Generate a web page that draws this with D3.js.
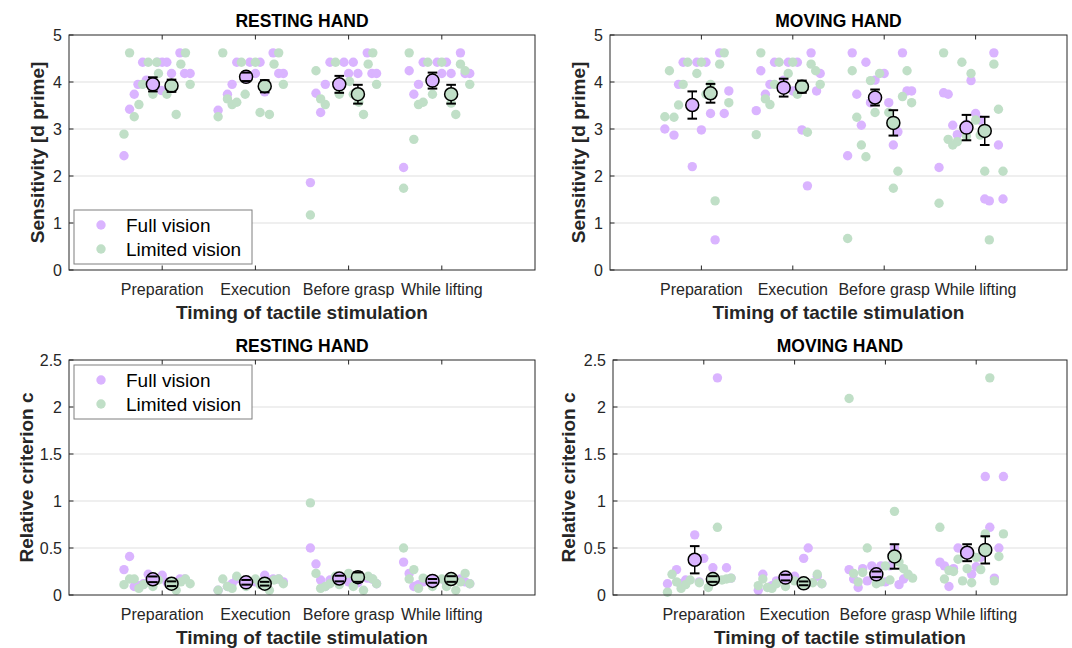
<!DOCTYPE html>
<html>
<head>
  <script src="https://cdn.jsdelivr.net/npm/d3@7"></script>
  <style>
    body { margin: 0; background: #fff; }
    text { font-family: "Liberation Sans", Arial, sans-serif; }
  </style>
</head>
<body>
  <script>

  var width = 1072
  var height = 648

  var categories = ["Preparation", "Execution", "Before grasp", "While lifting"];
  var groups = ["Full vision", "Limited vision"];

  // individual points: [jitter offset from category, value]
  var restDprimeFull = [
    [[-0.41,2.43],[-0.35,3.42],[-0.30,3.74],[-0.26,3.95],[-0.21,4.42],[-0.17,4.04],[-0.05,4.42],[-0.01,3.82],[0.0,4.42],[0.05,4.42],[0.10,4.18],[0.19,4.62],[0.24,4.18],[0.30,4.18]],
    [[-0.40,3.40],[-0.30,3.74],[-0.25,3.95],[-0.20,4.42],[-0.06,4.42],[0.0,4.18],[0.05,4.42],[0.10,3.79],[0.19,4.62],[0.25,4.18],[0.30,4.18]],
    [[-0.41,1.86],[-0.35,3.76],[-0.30,3.35],[-0.25,3.95],[-0.20,4.42],[-0.05,4.42],[0,4.18],[0.05,4.42],[0.10,4.18],[0.20,4.62],[0.25,4.18],[0.30,4.18]],
    [[-0.41,2.18],[-0.35,4.24],[-0.30,3.74],[-0.25,3.95],[-0.20,4.42],[-0.05,4.42],[0,4.18],[0.05,4.42],[0.10,4.18],[0.20,4.62],[0.25,4.18],[0.30,4.18]]
  ];
  var restDprimeLimited = [
    [[-0.41,2.89],[-0.35,4.62],[-0.30,3.26],[-0.25,3.52],[-0.21,3.95],[-0.15,4.42],[-0.10,3.74],[-0.06,4.42],[-0.04,4.18],[0.05,3.74],[0.15,3.31],[0.20,4.38],[0.25,4.62],[0.30,3.95]],
    [[-0.40,3.26],[-0.35,4.62],[-0.30,3.64],[-0.25,3.52],[-0.20,3.57],[-0.15,4.42],[-0.11,3.74],[0,4.42],[0.05,3.35],[0.15,3.31],[0.20,4.38],[0.25,4.62],[0.30,3.95]],
    [[-0.41,1.17],[-0.35,4.24],[-0.30,3.64],[-0.25,3.52],[-0.14,4.42],[-0.10,3.74],[0.01,4.01],[0.05,3.74],[0.11,3.57],[0.16,3.31],[0.21,4.38],[0.26,4.62],[0.30,3.95]],
    [[-0.41,1.74],[-0.35,4.62],[-0.30,2.78],[-0.25,3.52],[-0.20,3.57],[-0.15,4.42],[-0.10,3.74],[0,4.42],[0.10,3.55],[0.15,3.31],[0.20,4.38],[0.25,4.24],[0.30,3.95]]
  ];
  var restDprimeMeanFull = [3.95, 4.11, 3.95, 4.03];
  var restDprimeErrFull = [0.15, 0.09, 0.18, 0.17];
  var restDprimeMeanLimited = [3.92, 3.91, 3.74, 3.74];
  var restDprimeErrLimited = [0.13, 0.13, 0.20, 0.20];

  var moveDprimeFull = [
    [[-0.40,3.0],[-0.30,2.87],[-0.25,3.95],[-0.20,4.42],[-0.10,2.20],[-0.05,4.42],[0,2.98],[0.05,4.42],[0.10,3.33],[0.15,0.64],[0.20,4.62],[0.25,3.33],[0.30,3.81]],
    [[-0.40,3.39],[-0.35,4.24],[-0.30,3.74],[-0.25,3.95],[-0.20,4.42],[-0.10,4.04],[-0.05,4.42],[0,3.81],[0.05,4.42],[0.10,2.98],[0.16,1.79],[0.20,4.62],[0.26,3.81],[0.30,4.18]],
    [[-0.40,2.43],[-0.35,4.62],[-0.30,3.74],[-0.25,3.08],[-0.20,4.42],[-0.15,3.56],[-0.10,4.04],[0,4.18],[0.05,3.56],[0.10,2.66],[0.15,2.94],[0.20,4.62],[0.25,3.81],[0.30,3.81]],
    [[-0.40,2.18],[-0.35,3.77],[-0.30,3.74],[-0.25,3.08],[-0.20,2.88],[-0.10,3.10],[-0.05,4.03],[0,3.33],[0.05,3.19],[0.10,1.51],[0.15,1.47],[0.20,4.62],[0.25,2.66],[0.30,1.51]]
  ];
  var moveDprimeLimited = [
    [[-0.40,3.26],[-0.35,4.24],[-0.30,3.25],[-0.25,3.51],[-0.20,3.95],[-0.15,4.42],[-0.05,4.18],[0,4.42],[0.05,3.74],[0.10,3.95],[0.15,1.47],[0.20,4.38],[0.25,4.62],[0.30,3.56]],
    [[-0.40,2.88],[-0.35,4.62],[-0.30,3.64],[-0.25,3.52],[-0.20,3.95],[-0.15,4.42],[-0.05,4.18],[0,4.42],[0.05,3.74],[0.16,2.93],[0.20,4.38],[0.25,4.24],[0.30,3.95]],
    [[-0.40,0.67],[-0.35,4.24],[-0.30,3.25],[-0.25,2.66],[-0.20,2.41],[-0.15,4.03],[-0.10,3.35],[-0.05,4.18],[0.05,3.35],[0.10,1.74],[0.15,2.10],[0.20,3.69],[0.25,4.24],[0.30,3.56]],
    [[-0.40,1.42],[-0.35,4.62],[-0.30,2.78],[-0.25,2.66],[-0.20,2.73],[-0.15,4.42],[-0.10,2.85],[-0.05,4.18],[0,3.19],[0.05,2.87],[0.10,2.10],[0.15,0.64],[0.20,4.38],[0.25,3.42],[0.30,2.10]]
  ];
  var moveDprimeMeanFull = [3.51, 3.88, 3.67, 3.03];
  var moveDprimeErrFull = [0.29, 0.19, 0.17, 0.27];
  var moveDprimeMeanLimited = [3.76, 3.90, 3.13, 2.96];
  var moveDprimeErrLimited = [0.20, 0.13, 0.27, 0.30];

  var restCritFull = [
    [[-0.41,0.27],[-0.35,0.41],[-0.30,0.09],[-0.25,0.10],[-0.20,0.12],[-0.15,0.22],[0,0.21],[0.05,0.14],[0.19,0.17],[0.24,0.17]],
    [[-0.40,0.05],[-0.30,0.09],[-0.25,0.12],[-0.20,0.17],[0,0.14],[0.10,0.21],[0.19,0.17],[0.25,0.17],[0.30,0.14]],
    [[-0.41,0.50],[-0.35,0.33],[-0.30,0.16],[-0.25,0.09],[-0.20,0.16],[0,0.14],[0.05,0.17],[0.10,0.13],[0.20,0.18],[0.25,0.17],[0.30,0.12]],
    [[-0.41,0.35],[-0.35,0.23],[-0.30,0.09],[-0.25,0.11],[-0.20,0.14],[0.05,0.12],[0.20,0.17],[0.25,0.14],[0.30,0.12]]
  ];
  var restCritLimited = [
    [[-0.41,0.11],[-0.35,0.17],[-0.30,0.17],[-0.25,0.07],[-0.20,0.11],[-0.10,0.09],[-0.04,0.16],[0.15,0.05],[0.20,0.14],[0.25,0.17],[0.30,0.12]],
    [[-0.40,0.05],[-0.35,0.17],[-0.30,0.09],[-0.25,0.07],[-0.20,0.20],[-0.10,0.09],[0,0.17],[0.05,0.11],[0.15,0.05],[0.20,0.16],[0.25,0.17],[0.30,0.12]],
    [[-0.41,0.98],[-0.35,0.23],[-0.30,0.07],[-0.25,0.09],[-0.20,0.12],[-0.14,0.20],[-0.10,0.11],[0,0.23],[0.05,0.09],[0.16,0.05],[0.21,0.20],[0.26,0.17],[0.30,0.12]],
    [[-0.41,0.50],[-0.35,0.17],[-0.30,0.27],[-0.25,0.07],[-0.20,0.18],[-0.10,0.09],[0,0.17],[0.05,0.09],[0.15,0.05],[0.20,0.14],[0.25,0.23],[0.30,0.12]]
  ];
  var restCritMeanFull = [0.167, 0.135, 0.175, 0.15];
  var restCritErrFull = [0.03, 0.025, 0.03, 0.02];
  var restCritMeanLimited = [0.12, 0.12, 0.19, 0.17];
  var restCritErrLimited = [0.025, 0.02, 0.05, 0.03];

  var moveCritFull = [
    [[-0.40,0.12],[-0.30,0.27],[-0.26,0.12],[-0.20,0.16],[-0.10,0.64],[-0.05,0.14],[0,0.39],[0.10,0.29],[0.15,2.31],[0.25,0.29],[0.30,0.18]],
    [[-0.40,0.05],[-0.35,0.22],[-0.25,0.10],[-0.20,0.15],[0,0.20],[0.10,0.39],[0.15,0.50],[0.25,0.20],[0.30,0.12]],
    [[-0.40,0.27],[-0.35,0.17],[-0.30,0.08],[-0.25,0.28],[-0.20,0.15],[-0.15,0.31],[-0.05,0.31],[0,0.14],[0.05,0.31],[0.10,0.50],[0.15,0.11],[0.20,0.17]],
    [[-0.40,0.35],[-0.35,0.31],[-0.30,0.09],[-0.25,0.28],[-0.20,0.50],[-0.05,0.22],[0,0.30],[0.05,0.40],[0.10,1.26],[0.15,0.72],[0.20,0.18],[0.25,0.50],[0.30,1.26]]
  ];
  var moveCritLimited = [
    [[-0.40,0.03],[-0.35,0.22],[-0.30,0.14],[-0.25,0.07],[-0.20,0.11],[-0.15,0.16],[-0.05,0.13],[0.05,0.08],[0.15,0.72],[0.20,0.16],[0.25,0.17],[0.30,0.18]],
    [[-0.40,0.10],[-0.35,0.17],[-0.30,0.08],[-0.25,0.07],[-0.20,0.12],[-0.10,0.09],[0,0.15],[0.20,0.13],[0.25,0.22],[0.30,0.12]],
    [[-0.40,2.09],[-0.35,0.23],[-0.30,0.14],[-0.25,0.24],[-0.20,0.50],[-0.10,0.12],[-0.05,0.14],[0,0.31],[0.05,0.16],[0.10,0.89],[0.15,0.35],[0.20,0.28],[0.25,0.22],[0.30,0.18]],
    [[-0.40,0.72],[-0.35,0.17],[-0.30,0.26],[-0.25,0.25],[-0.20,0.38],[-0.15,0.15],[-0.10,0.28],[-0.05,0.13],[0,0.40],[0.05,0.27],[0.10,0.65],[0.15,2.31],[0.20,0.15],[0.25,0.41],[0.30,0.65]]
  ];
  var moveCritMeanFull = [0.375, 0.185, 0.22, 0.45];
  var moveCritErrFull = [0.145, 0.03, 0.03, 0.09];
  var moveCritMeanLimited = [0.17, 0.124, 0.41, 0.48];
  var moveCritErrLimited = [0.03, 0.02, 0.13, 0.145];

  var dprimeTicks = [0, 1, 2, 3, 4, 5];
  var critTicks = [0, 0.5, 1, 1.5, 2, 2.5];

  var colors = ["#dab4ff", "#c0dfc7"];
  var meanOffset = [-0.1, 0.1];
  var ink = "#262626";

  var panels = [
    { title: "RESTING HAND", ylabel: "Sensitivity [d prime]", left: 69, right: 535, top: 35, bottom: 270,
      ymax: 5, ticks: dprimeTicks, labelX: 44, legend: [74, 210],
      points: [restDprimeFull, restDprimeLimited], means: [restDprimeMeanFull, restDprimeMeanLimited], errs: [restDprimeErrFull, restDprimeErrLimited] },
    { title: "MOVING HAND", ylabel: "Sensitivity [d prime]", left: 610, right: 1067, top: 35, bottom: 270,
      ymax: 5, ticks: dprimeTicks, labelX: 585, legend: null,
      points: [moveDprimeFull, moveDprimeLimited], means: [moveDprimeMeanFull, moveDprimeMeanLimited], errs: [moveDprimeErrFull, moveDprimeErrLimited] },
    { title: "RESTING HAND", ylabel: "Relative criterion c", left: 69, right: 535, top: 360, bottom: 595,
      ymax: 2.5, ticks: critTicks, labelX: 33, legend: [74, 365],
      points: [restCritFull, restCritLimited], means: [restCritMeanFull, restCritMeanLimited], errs: [restCritErrFull, restCritErrLimited] },
    { title: "MOVING HAND", ylabel: "Relative criterion c", left: 613, right: 1067, top: 360, bottom: 595,
      ymax: 2.5, ticks: critTicks, labelX: 575, legend: null,
      points: [moveCritFull, moveCritLimited], means: [moveCritMeanFull, moveCritMeanLimited], errs: [moveCritErrFull, moveCritErrLimited] }
  ];

  var svg = d3.select("body").append("svg")
    .attr("width", width)
    .attr("height", height);

  panels.forEach(function(p) {
    var x = d3.scaleLinear().domain([0, 5]).range([p.left, p.right]);
    var y = d3.scaleLinear().domain([0, p.ymax]).range([p.bottom, p.top]);
    var g = svg.append("g");

    // grid
    g.selectAll(".grid")
      .data(p.ticks.slice(1, -1)).enter()
      .append("line")
      .attr("x1", p.left).attr("x2", p.right)
      .attr("y1", function(d) { return y(d); })
      .attr("y2", function(d) { return y(d); })
      .attr("stroke", "#dfdfdf").attr("stroke-width", 1);

    // individual points
    p.points.forEach(function(series, gi) {
      series.forEach(function(pts, ci) {
        g.selectAll(null)
          .data(pts).enter()
          .append("circle")
          .attr("cx", function(d) { return x(ci + 1 + d[0]); })
          .attr("cy", function(d) { return y(d[1]); })
          .attr("r", 4.7)
          .attr("fill", colors[gi]);
      });
    });

    // mean + error bars (stem under marker, caps on top)
    p.means.forEach(function(m, gi) {
      var eg = g.selectAll(null)
        .data(m).enter()
        .append("g")
        .attr("transform", function(d, i) { return "translate(" + x(i + 1 + meanOffset[gi]) + ",0)"; });
      eg.append("line")
        .attr("y1", function(d, i) { return y(d - p.errs[gi][i]); })
        .attr("y2", function(d, i) { return y(d + p.errs[gi][i]); })
        .attr("stroke", "#000").attr("stroke-width", 1.5);
      eg.append("circle")
        .attr("cy", function(d) { return y(d); })
        .attr("r", 6.5)
        .attr("fill", colors[gi])
        .attr("stroke", "#000").attr("stroke-width", 1.5);
      [-1, 1].forEach(function(s) {
        eg.append("line")
          .attr("x1", -4.8).attr("x2", 4.8)
          .attr("y1", function(d, i) { return y(d + s * p.errs[gi][i]); })
          .attr("y2", function(d, i) { return y(d + s * p.errs[gi][i]); })
          .attr("stroke", "#000").attr("stroke-width", 2);
      });
    });

    // box
    g.append("rect")
      .attr("x", p.left).attr("y", p.top)
      .attr("width", p.right - p.left).attr("height", p.bottom - p.top)
      .attr("fill", "none").attr("stroke", ink).attr("stroke-width", 1);

    // y ticks
    g.selectAll(".yt")
      .data(p.ticks).enter()
      .append("line")
      .attr("x1", p.left).attr("x2", p.left + 4.5)
      .attr("y1", function(d) { return y(d); })
      .attr("y2", function(d) { return y(d); })
      .attr("stroke", ink);
    g.selectAll(".ytl")
      .data(p.ticks).enter()
      .append("text")
      .attr("x", p.left - 7)
      .attr("y", function(d) { return y(d) + 5.5; })
      .attr("text-anchor", "end")
      .attr("font-size", 16)
      .attr("fill", ink)
      .text(function(d) { return d; });

    // x ticks (bottom and top, inward)
    [[p.bottom, -4.5], [p.top, 4.5]].forEach(function(e) {
      g.selectAll(null)
        .data(categories).enter()
        .append("line")
        .attr("x1", function(d, i) { return x(i + 1); })
        .attr("x2", function(d, i) { return x(i + 1); })
        .attr("y1", e[0]).attr("y2", e[0] + e[1])
        .attr("stroke", ink);
    });
    g.selectAll(".xtl")
      .data(categories).enter()
      .append("text")
      .attr("x", function(d, i) { return x(i + 1); })
      .attr("y", p.bottom + 25)
      .attr("text-anchor", "middle")
      .attr("font-size", 16)
      .attr("fill", ink)
      .text(function(d) { return d; });

    g.append("text")
      .attr("x", (p.left + p.right) / 2)
      .attr("y", p.bottom + 49)
      .attr("text-anchor", "middle")
      .attr("font-size", 19)
      .attr("font-weight", "bold")
      .attr("fill", ink)
      .text("Timing of tactile stimulation");

    g.append("text")
      .attr("transform", "translate(" + p.labelX + "," + ((p.top + p.bottom) / 2) + ") rotate(-90)")
      .attr("text-anchor", "middle")
      .attr("font-size", 19)
      .attr("font-weight", "bold")
      .attr("fill", ink)
      .text(p.ylabel);

    g.append("text")
      .attr("x", (p.left + p.right) / 2)
      .attr("y", p.top - 8)
      .attr("text-anchor", "middle")
      .attr("font-size", 17.5)
      .attr("font-weight", "bold")
      .attr("fill", "#000")
      .text(p.title);

    if (p.legend) {
      var lg = g.append("g").attr("transform", "translate(" + p.legend[0] + "," + p.legend[1] + ")");
      lg.append("rect")
        .attr("width", 178).attr("height", 54)
        .attr("fill", "#fff").attr("stroke", "#7f7f7f").attr("stroke-width", 1);
      var rows = lg.selectAll(".lr")
        .data(groups).enter()
        .append("g")
        .attr("transform", function(d, i) { return "translate(0," + (15 + i * 24) + ")"; });
      rows.append("circle")
        .attr("cx", 27).attr("r", 4.7)
        .attr("fill", function(d, i) { return colors[i]; });
      rows.append("text")
        .attr("x", 52).attr("y", 7)
        .attr("font-size", 19)
        .attr("fill", "#000")
        .text(function(d) { return d; });
    }
  });

  </script>
</body>
</html>
